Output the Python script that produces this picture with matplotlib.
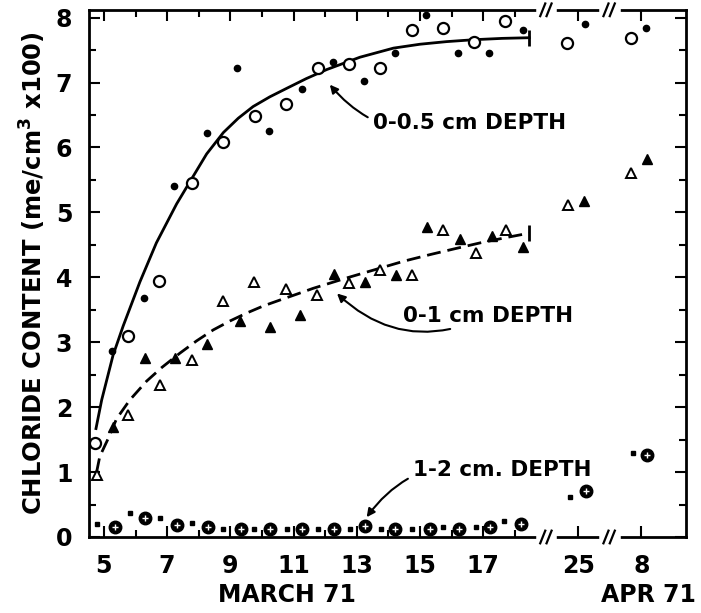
import matplotlib.pyplot as plt

# x is a plot position: March days as they are, 25 Mar -> 20, 8 Apr -> 22
# 0-0.5 cm depth
open_circ_x = [4.72, 5.75, 6.75, 7.78, 8.78, 9.78, 10.75, 11.78, 12.76, 13.73, 14.74, 15.71, 16.72, 17.70, 19.65, 21.67]
open_circ_y = [1.44, 3.09, 3.95, 5.46, 6.08, 6.48, 6.67, 7.23, 7.28, 7.23, 7.81, 7.84, 7.62, 7.95, 7.61, 7.68]
dot_x = [5.26, 6.28, 7.23, 8.25, 9.20, 10.22, 11.26, 12.26, 13.23, 14.21, 15.18, 16.19, 17.17, 18.24, 20.22, 22.14]
dot_y = [2.87, 3.68, 5.40, 6.23, 7.23, 6.26, 6.90, 7.31, 7.03, 7.45, 8.04, 7.45, 7.45, 7.81, 7.90, 7.84]
curve1_x = [4.75, 4.93, 5.29, 5.61, 6.14, 6.66, 7.30, 7.78, 8.25, 8.78, 9.25, 9.72, 10.25, 10.78, 11.40, 12.05,
            13.10, 14.16, 15.00, 15.84, 16.72, 17.60, 18.45]
curve1_y = [1.67, 2.11, 2.80, 3.25, 3.93, 4.53, 5.13, 5.52, 5.90, 6.23, 6.45, 6.63, 6.78, 6.91, 7.06, 7.20,
            7.39, 7.53, 7.59, 7.63, 7.66, 7.68, 7.69]

# 0-1 cm depth
open_tri_x = [4.79, 5.77, 6.77, 7.78, 8.78, 9.75, 10.75, 11.73, 12.75, 13.73, 14.74, 15.74, 16.76, 17.72, 19.69, 21.67]
open_tri_y = [0.96, 1.88, 2.34, 2.73, 3.63, 3.92, 3.82, 3.73, 3.91, 4.12, 4.04, 4.73, 4.38, 4.73, 5.12, 5.60]
full_tri_x = [5.30, 6.30, 7.25, 8.25, 9.30, 10.25, 11.20, 12.28, 13.26, 14.24, 15.21, 16.27, 17.27, 18.24, 20.19, 22.19]
full_tri_y = [1.70, 2.75, 2.75, 2.97, 3.32, 3.24, 3.42, 4.05, 3.92, 4.03, 4.78, 4.59, 4.63, 4.47, 5.18, 5.82]
curve2_x = [4.77, 4.87, 5.14, 5.40, 5.82, 6.35, 6.83, 7.40, 7.93, 8.46, 9.00, 9.52, 10.05, 10.57, 11.10, 11.62,
            12.68, 13.73, 14.50, 15.32, 16.10, 16.90, 17.70, 18.45]
curve2_y = [1.00, 1.24, 1.52, 1.82, 2.11, 2.40, 2.61, 2.83, 3.02, 3.19, 3.33, 3.45, 3.56, 3.65, 3.74, 3.83,
            3.99, 4.14, 4.25, 4.35, 4.44, 4.53, 4.61, 4.68]

# 1-2 cm depth
ring_x = [5.35, 6.30, 7.30, 8.28, 9.34, 10.25, 11.28, 12.29, 13.26, 14.21, 15.33, 16.23, 17.22, 18.20, 20.25, 22.17]
ring_y = [0.15, 0.30, 0.18, 0.15, 0.13, 0.13, 0.13, 0.13, 0.17, 0.13, 0.13, 0.12, 0.16, 0.20, 0.71, 1.27]
sq_x = [4.79, 5.84, 6.77, 7.79, 8.78, 9.76, 10.78, 11.78, 12.78, 13.77, 14.74, 15.74, 16.76, 17.66, 19.75, 21.72]
sq_y = [0.20, 0.37, 0.29, 0.21, 0.13, 0.13, 0.13, 0.13, 0.13, 0.13, 0.13, 0.15, 0.15, 0.24, 0.61, 1.30]

tick_pos = [5, 7, 9, 11, 13, 15, 17, 20, 22]
tick_labels = ['5', '7', '9', '11', '13', '15', '17', '25', '8']
minor_pos = [6, 8, 10, 12, 14, 16, 18]
break_pos = [19, 21]

plt.rcParams['font.family'] = 'DejaVu Sans'
plt.rcParams['font.weight'] = 'bold'

fig = plt.figure(figsize=(7.01, 6.13), dpi=100)
ax = fig.add_axes([0.127, 0.124, 0.852, 0.860])

ax.plot(curve1_x, curve1_y, color='black', lw=2, marker='|', ms=12, mew=2, markevery=[-1])
ax.plot(curve2_x, curve2_y, color='black', lw=2, ls=(0, (5, 2.5)), marker='|', ms=12, mew=2, markevery=[-1])

ax.plot(open_circ_x, open_circ_y, 'o', mfc='white', mec='black', mew=1.6, ms=8, ls='none')
ax.plot(dot_x, dot_y, 'o', color='black', ms=4.5, ls='none')
ax.plot(open_tri_x, open_tri_y, '^', mfc='white', mec='black', mew=1.4, ms=6.5, ls='none')
ax.plot(full_tri_x, full_tri_y, '^', color='black', ms=7, ls='none')
ax.plot(ring_x, ring_y, 'o', color='black', ms=9, ls='none', clip_on=False)
ax.plot(ring_x, ring_y, '+', color='white', ms=4, mew=1, ls='none', clip_on=False)
ax.plot(sq_x, sq_y, 's', color='black', ms=3, ls='none')

ax.set_xlim(4.53, 23.42)
ax.set_ylim(0, 8.12)
ax.set_xticks(tick_pos)
ax.set_xticklabels(tick_labels)
ax.set_xticks(minor_pos, minor=True)
ax.set_yticks(range(0, 9))
ax.set_yticks([i + 0.5 for i in range(8)], minor=True)
ax.tick_params(which='both', direction='in', top=True, right=True, width=1.5,
               labelsize=17, pad=12)
ax.tick_params(which='major', length=8)
ax.tick_params(which='minor', length=5)
for s in ax.spines.values():
    s.set_linewidth(2)

# axis break marks on top and bottom spines
tr = ax.get_xaxis_transform()
for xb in break_pos:
    for yb in (0, 1):
        ax.plot([xb - 0.25, xb + 0.25], [yb, yb], color='white', lw=4, transform=tr, clip_on=False, zorder=5)
        for dx in (-0.12, 0.08):
            ax.plot([xb + dx - 0.08, xb + dx + 0.08], [yb - 0.012, yb + 0.012], color='black', lw=1.6,
                    transform=tr, clip_on=False, zorder=6)

fig.text(0.41, 0.030, 'MARCH 71', ha='center', va='center', fontsize=17, fontweight='bold')
fig.text(0.925, 0.030, 'APR 71', ha='center', va='center', fontsize=17, fontweight='bold')
ax.set_ylabel('CHLORIDE CONTENT (me/cm$^{\\mathbf{3}}$ x100)', fontsize=17.5, fontweight='bold', labelpad=6)

arrow = dict(arrowstyle='-|>', color='black', lw=1.5, mutation_scale=12)
ax.annotate('0-0.5 cm DEPTH', xy=(12.09, 7.0), xytext=(13.51, 6.38), fontsize=15.5,
            ha='left', va='center', arrowprops=dict(arrow, connectionstyle='arc3,rad=-0.35'))
ax.annotate('0-1 cm DEPTH', xy=(12.31, 3.78), xytext=(14.46, 3.41), fontsize=15.5,
            ha='left', va='center', arrowprops=dict(arrow, connectionstyle='arc3,rad=-0.35'))
ax.annotate('1-2 cm. DEPTH', xy=(13.26, 0.27), xytext=(14.78, 1.03), fontsize=15.5,
            ha='left', va='center', arrowprops=dict(arrow, connectionstyle='arc3,rad=0.35'))

plt.savefig('out.png', dpi=100)
plt.close()
